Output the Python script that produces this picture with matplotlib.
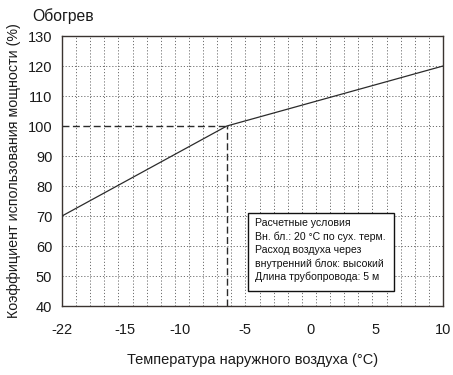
"""Heating capacity correction vs outdoor temperature."""

import matplotlib

matplotlib.use("Agg")
import matplotlib.pyplot as plt
import numpy as np
from matplotlib.patches import Rectangle
from matplotlib.scale import FuncScale

plt.rcParams["font.family"] = ["Liberation Sans", "DejaVu Sans"]

# outdoor temperature (°C) and capacity ratio (%)
temp = [-22, -6.4, 10]
capacity = [70, 100, 120]
knee_temp, knee_cap = -6.4, 100

x_ticks = [-22, -15, -10, -5, 0, 5, 10]
y_ticks = [40, 50, 60, 70, 80, 90, 100, 110, 120, 130]

conditions = [
    "Расчетные условия",
    "Вн. бл.: 20 °C по сух. терм.",
    "Расход воздуха через",
    "внутренний блок: высокий",
    "Длина трубопровода: 5 м",
]

# the printed temperature axis is not evenly spaced; map it piecewise
tick_pos = np.array([0, 63, 118, 183, 248, 313, 381], dtype=float)


def fwd(x):
    return np.interp(x, x_ticks, tick_pos)


def inv(p):
    return np.interp(p, tick_pos, x_ticks)


ink = "#2b2b2b"
dots = dict(color="#707070", lw=0.7, linestyle=(0, (1.2, 2.0)), zorder=1)

fig = plt.figure(figsize=(4.53, 3.75), dpi=100)
ax = fig.add_axes([0.1369, 0.184, 0.8411, 0.72])
ax.set_xscale(FuncScale(ax.xaxis, (fwd, inv)))
ax.set_xlim(-22, 10)
ax.set_ylim(40, 130)

# dotted background grid: 27 equal vertical strips, one horizontal per 10 %
for fx in np.linspace(0, 1, 28)[1:-1]:
    ax.plot([fx, fx], [0, 1], transform=ax.transAxes, **dots)
for yv in y_ticks[1:-1]:
    if yv == knee_cap:
        ax.plot([knee_temp, 10], [yv, yv], **dots)
    else:
        ax.axhline(yv, **dots)

# reference lines through the knee point
ax.plot([-22, knee_temp], [knee_cap, knee_cap], color=ink, lw=1.0,
        linestyle=(0, (5, 2.5)), zorder=2)
ax.plot([knee_temp, knee_temp], [40, knee_cap], color=ink, lw=1.0,
        linestyle=(0, (5, 2.5)), zorder=2)

ax.plot(temp, capacity, color=ink, lw=0.9, zorder=3)

ax.set_xticks(x_ticks)
ax.set_xticklabels([str(t) for t in x_ticks])
ax.set_yticks(y_ticks)
ax.tick_params(length=0, labelsize=10.5, colors="#1a1a1a", pad=7)
ax.tick_params(axis="x", pad=12)
for s in ax.spines.values():
    s.set_color("#3a3330")
    s.set_linewidth(1.0)

ax.set_xlabel("Температура наружного воздуха (°C)", fontsize=10.5, color="#1a1a1a", labelpad=12)
ax.set_ylabel("Коэффициент использования мощности (%)", fontsize=10.3, color="#1a1a1a", labelpad=5)
fig.text(0.071, 0.957, "Обогрев", fontsize=11.3, color="#1a1a1a", va="center", ha="left")

ax.add_patch(Rectangle((0.488, 0.056), 0.383, 0.289, transform=ax.transAxes,
                       facecolor="white", edgecolor="#111111", lw=1.0, zorder=4))
ax.text(0.506, 0.325, "\n".join(conditions), transform=ax.transAxes, fontsize=7.6,
        va="top", ha="left", linespacing=1.38, color="#111111", zorder=5)

fig.savefig("out.png", dpi=100)
